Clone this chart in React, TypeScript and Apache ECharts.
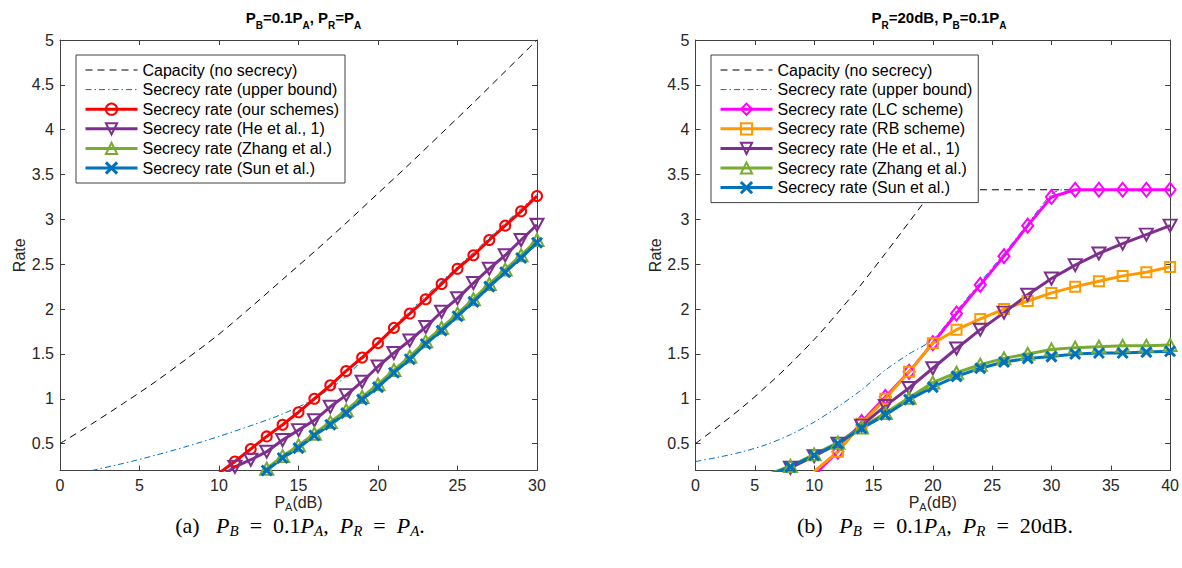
import React, { useEffect, useRef } from "react";
import * as echarts from "echarts";

// ---------------- data: left panel (P_B = 0.1 P_A, P_R = P_A) ----------------
const capLx = [0, 2, 4, 6, 8, 10, 12, 14, 16, 18, 20, 22, 24, 26, 28, 30];
const capLy = [0.5, 0.72, 0.95, 1.19, 1.45, 1.72, 2.02, 2.33, 2.64, 2.96, 3.29, 3.62, 3.96, 4.3, 4.65, 5.0];
const upLx = [2, 4, 6, 8, 10, 12, 14, 16, 18, 20, 22, 24, 26, 28, 30];
const upLy = [0.2, 0.28, 0.37, 0.47, 0.58, 0.7, 0.83, 1.0, 1.25, 1.63, 1.98, 2.31, 2.63, 2.96, 3.28];
const ourLx = [10, 11, 12, 13, 14, 15, 16, 17, 18, 19, 20, 21, 22, 23, 24, 25, 26, 27, 28, 29, 30];
const ourLy = [0.17, 0.3, 0.44, 0.58, 0.71, 0.85, 1.0, 1.15, 1.31, 1.46, 1.62, 1.79, 1.95, 2.11, 2.28, 2.45, 2.6, 2.77, 2.93, 3.09, 3.26];
const heLx = [10, 11, 12, 13, 14, 15, 16, 17, 18, 19, 20, 21, 22, 23, 24, 25, 26, 27, 28, 29, 30];
const heLy = [0.12, 0.24, 0.32, 0.41, 0.54, 0.65, 0.76, 0.91, 1.04, 1.19, 1.36, 1.51, 1.65, 1.8, 1.97, 2.12, 2.29, 2.45, 2.6, 2.77, 2.94];
const zsLx = [12, 13, 14, 15, 16, 17, 18, 19, 20, 21, 22, 23, 24, 25, 26, 27, 28, 29, 30];
const zhangLy = [0.08, 0.22, 0.36, 0.48, 0.61, 0.74, 0.87, 1.02, 1.16, 1.32, 1.47, 1.64, 1.79, 1.95, 2.11, 2.28, 2.44, 2.6, 2.77];
const sunLy = [0.07, 0.2, 0.34, 0.45, 0.59, 0.71, 0.84, 0.99, 1.13, 1.29, 1.44, 1.61, 1.76, 1.92, 2.08, 2.25, 2.41, 2.57, 2.74];

// ---------------- data: right panel (P_R = 20 dB, P_B = 0.1 P_A) ----------------
const capRx = [0, 2, 4, 6, 8, 10, 12, 14, 16, 18, 20, 20.1, 40];
const capRy = [0.5, 0.7, 0.91, 1.14, 1.39, 1.66, 1.96, 2.28, 2.62, 2.97, 3.32, 3.33, 3.33];
const upRx = [0, 2, 4, 6, 8, 10, 12, 14, 16, 18, 20, 22, 24, 26, 28, 30, 31, 40];
const upRy = [0.3, 0.35, 0.41, 0.49, 0.6, 0.74, 0.91, 1.1, 1.32, 1.5, 1.66, 1.98, 2.3, 2.62, 2.95, 3.28, 3.33, 3.33];
const lrRx = [10, 12, 14, 16, 18, 20, 22, 24, 26, 28, 30, 32, 34, 36, 38, 40];
const lcRy = [0.15, 0.41, 0.74, 1.02, 1.3, 1.62, 1.95, 2.27, 2.59, 2.93, 3.25, 3.33, 3.33, 3.33, 3.33, 3.33];
const rbRy = [0.19, 0.41, 0.72, 1.0, 1.3, 1.62, 1.77, 1.89, 2.0, 2.09, 2.18, 2.25, 2.31, 2.37, 2.41, 2.47];
const hzsRx = [6, 8, 10, 12, 14, 16, 18, 20, 22, 24, 26, 28, 30, 32, 34, 36, 38, 40];
const heRy = [0.14, 0.23, 0.36, 0.5, 0.7, 0.92, 1.12, 1.34, 1.56, 1.77, 1.96, 2.16, 2.34, 2.49, 2.62, 2.73, 2.83, 2.93];
const zhangRy = [0.15, 0.25, 0.38, 0.51, 0.68, 0.84, 1.01, 1.18, 1.29, 1.38, 1.45, 1.5, 1.55, 1.57, 1.58, 1.59, 1.59, 1.6];
const sunRy = [0.14, 0.24, 0.37, 0.5, 0.67, 0.82, 0.99, 1.13, 1.25, 1.34, 1.41, 1.45, 1.47, 1.5, 1.51, 1.51, 1.52, 1.53];

const yTicks = [0.5, 1, 1.5, 2, 2.5, 3, 3.5, 4, 4.5, 5];

const N_CAP = "Capacity (no secrecy)";
const N_UP = "Secrecy rate (upper bound)";
const N_OUR = "Secrecy rate (our schemes)";
const N_LC = "Secrecy rate (LC scheme)";
const N_RB = "Secrecy rate (RB scheme)";
const N_HE = "Secrecy rate (He et al., 1)";
const N_ZH = "Secrecy rate (Zhang et al.)";
const N_SUN = "Secrecy rate (Sun et al.)";

const FONT = '"Liberation Sans", Arial, Helvetica, sans-serif';
const SERIF = '"Liberation Serif", "Times New Roman", serif';
const AX = "#404040";
const TXT = "#262626";

const C = {
  red: "#FF0000",
  purple: "#7E2F8E",
  green: "#77AC30",
  blue: "#0072BD",
  magenta: "#FF00FF",
  orange: "#FF9900",
};

const zip = (xs: number[], ys: number[]) => xs.map((x, i) => [x, ys[i]]);

const X_SYM = "path://M0,0L10,10M10,0L0,10";
const TRI = [13, 12];

function xAxes(grid: number, max: number) {
  const common = {
    gridIndex: grid,
    type: "value",
    min: 0,
    max,
    interval: 5,
    axisLine: { show: true, onZero: false, lineStyle: { color: AX, width: 1 } },
    axisTick: { show: true, inside: true, length: 5, lineStyle: { color: AX } },
    splitLine: { show: false },
  };
  return [
    {
      ...common,
      position: "bottom",
      axisLabel: { show: true, color: TXT, fontSize: 16, fontFamily: FONT, margin: 7 },
      name: "{m|P}{s|A}{m|(dB)}",
      nameLocation: "middle",
      nameGap: 24,
      nameMoveOverlap: false,
      nameTextStyle: {
        verticalAlign: "top",
        rich: {
          m: { fontSize: 16, fontFamily: FONT, color: TXT, verticalAlign: "top", lineHeight: 15 },
          s: { fontSize: 11, fontFamily: FONT, color: TXT, verticalAlign: "top", lineHeight: 11, padding: [7, 0, 0, 0] },
        },
      },
    },
    { ...common, position: "top", axisLabel: { show: false } },
  ];
}

function yAxes(grid: number) {
  const common = {
    gridIndex: grid,
    type: "value",
    min: 0.2,
    max: 5,
    axisLine: { show: true, onZero: false, lineStyle: { color: AX, width: 1 } },
    axisTick: { show: true, inside: true, length: 5, lineStyle: { color: AX }, customValues: yTicks },
    splitLine: { show: false },
  };
  return [
    {
      ...common,
      position: "left",
      axisLabel: { show: true, color: TXT, fontSize: 16, fontFamily: FONT, margin: 6, customValues: yTicks },
      name: "Rate",
      nameLocation: "middle",
      nameRotate: 90,
      nameGap: 30,
      nameTextStyle: { fontSize: 16, fontFamily: FONT, color: TXT },
    },
    { ...common, position: "right", axisLabel: { show: false } },
  ];
}

function capSeries(name: string, xi: number, yi: number, xs: number[], ys: number[]) {
  return {
    name,
    type: "line",
    xAxisIndex: xi,
    yAxisIndex: yi,
    data: zip(xs, ys),
    symbol: "none",
    smooth: 0.3,
    lineStyle: { color: "#000", width: 1, type: [7, 5] },
    itemStyle: { color: "#000" },
  };
}

function upSeries(name: string, xi: number, yi: number, xs: number[], ys: number[]) {
  return {
    name,
    type: "line",
    xAxisIndex: xi,
    yAxisIndex: yi,
    data: zip(xs, ys),
    symbol: "none",
    smooth: 0.3,
    lineStyle: { color: C.blue, width: 1, type: [6, 3, 1.5, 3] },
    itemStyle: { color: C.blue },
  };
}

function markSeries(
  name: string,
  xi: number,
  yi: number,
  xs: number[],
  ys: number[],
  color: string,
  symbol: string,
  size: number | number[],
  rotate = 0,
  bw = 2
) {
  return {
    name,
    type: "line",
    xAxisIndex: xi,
    yAxisIndex: yi,
    data: zip(xs, ys),
    symbol,
    symbolSize: size,
    symbolRotate: rotate,
    showAllSymbol: true,
    lineStyle: { color, width: 3 },
    itemStyle: { color: "rgba(0,0,0,0)", borderColor: color, borderWidth: bw },
  };
}

function legendItem(name: string, color: string, dash?: any, lw = 3, bw = 2, noSym = false) {
  return {
    name,
    lineStyle: { color, width: lw, type: dash || "solid" },
    itemStyle: noSym
      ? { color: "rgba(0,0,0,0)", borderColor: "rgba(0,0,0,0)", borderWidth: 0, opacity: 0 }
      : { color: "rgba(0,0,0,0)", borderColor: color, borderWidth: bw },
  };
}

function titleRich() {
  return {
    m: { fontSize: 15, fontWeight: "bold", fontFamily: FONT, color: "#000", verticalAlign: "top", lineHeight: 20 },
    s: { fontSize: 10, fontWeight: "bold", fontFamily: FONT, color: "#000", verticalAlign: "bottom", lineHeight: 12 },
  };
}

function captionRich() {
  return {
    n: { fontSize: 22, fontFamily: SERIF, color: "#000", verticalAlign: "top", lineHeight: 22 },
    i: { fontSize: 22, fontFamily: SERIF, fontStyle: "italic", color: "#000", verticalAlign: "top", lineHeight: 22 },
    s: { fontSize: 15, fontFamily: SERIF, fontStyle: "italic", color: "#000", verticalAlign: "top", lineHeight: 14, padding: [9, 0, 0, 0] },
  };
}

export default function App() {
  const ref = useRef<HTMLDivElement>(null);
  useEffect(() => {
    if (!ref.current) return;
    const chart = echarts.init(ref.current, null, { renderer: "svg" });
    const legendBase = {
      orient: "vertical",
      top: 55,
      itemWidth: 52,
      itemHeight: 14,
      itemGap: 3.6,
      padding: [7, 6, 7, 8],
      borderColor: AX,
      borderWidth: 1,
      backgroundColor: "#fff",
      selectedMode: false,
      textStyle: { fontSize: 16, fontFamily: FONT, color: "#000" },
    };
    chart.setOption({
      animation: false,
      backgroundColor: "#fff",
      title: [
        {
          text: "{m|P}{s|B}{m|=0.1P}{s|A}{m|, P}{s|R}{m|=P}{s|A}",
          left: 298.5,
          top: 5,
          textAlign: "center",
          textStyle: { rich: titleRich() },
        },
        {
          text: "{m|P}{s|R}{m|=20dB, P}{s|B}{m|=0.1P}{s|A}",
          left: 934,
          top: 5,
          textAlign: "center",
          textStyle: { rich: titleRich() },
        },
      ],
      grid: [
        { left: 60, top: 40, width: 477, height: 430.5, containLabel: false },
        { left: 695.5, top: 40, width: 477, height: 430.5, containLabel: false },
      ],
      xAxis: [...xAxes(0, 30), ...xAxes(1, 40)],
      yAxis: [...yAxes(0), ...yAxes(1)],
      legend: [
        {
          ...legendBase,
          left: 76,
          data: [
            legendItem(N_CAP, "#000", [7, 5], 1, 0, true),
            legendItem(N_UP, C.blue, [6, 3, 1.5, 3], 1, 0, true),
            legendItem(N_OUR, C.red),
            legendItem(N_HE, C.purple),
            legendItem(N_ZH, C.green),
            legendItem(N_SUN, C.blue, undefined, 3, 3),
          ],
        },
        {
          ...legendBase,
          left: 711,
          data: [
            legendItem(N_CAP, "#000", [7, 5], 1, 0, true),
            legendItem(N_UP, C.blue, [6, 3, 1.5, 3], 1, 0, true),
            legendItem(N_LC, C.magenta),
            legendItem(N_RB, C.orange),
            legendItem(N_HE, C.purple),
            legendItem(N_ZH, C.green),
            legendItem(N_SUN, C.blue, undefined, 3, 3),
          ],
        },
      ],
      graphic: [
        {
          type: "text",
          x: 300,
          y: 514,
          style: {
            text: "{n|(a)   }{i|P}{s|B}{n|  =  0.1}{i|P}{s|A}{n|,  }{i|P}{s|R}{n|  =  }{i|P}{s|A}{n|.}",
            rich: captionRich(),
            align: "center",
          },
        },
        {
          type: "text",
          x: 935,
          y: 514,
          style: {
            text: "{n|(b)   }{i|P}{s|B}{n|  =  0.1}{i|P}{s|A}{n|,  }{i|P}{s|R}{n|  =  20dB.}",
            rich: captionRich(),
            align: "center",
          },
        },
      ],
      series: [
        capSeries(N_CAP, 0, 0, capLx, capLy),
        upSeries(N_UP, 0, 0, upLx, upLy),
        markSeries(N_OUR, 0, 0, ourLx, ourLy, C.red, "circle", 10),
        markSeries(N_HE, 0, 0, heLx, heLy, C.purple, "triangle", TRI, 180),
        markSeries(N_ZH, 0, 0, zsLx, zhangLy, C.green, "triangle", TRI),
        markSeries(N_SUN, 0, 0, zsLx, sunLy, C.blue, X_SYM, 10, 0, 3),

        capSeries(N_CAP, 2, 2, capRx, capRy),
        upSeries(N_UP, 2, 2, upRx, upRy),
        markSeries(N_LC, 2, 2, lrRx, lcRy, C.magenta, "diamond", [11, 14]),
        markSeries(N_RB, 2, 2, lrRx, rbRy, C.orange, "rect", 10),
        markSeries(N_HE, 2, 2, hzsRx, heRy, C.purple, "triangle", TRI, 180),
        markSeries(N_ZH, 2, 2, hzsRx, zhangRy, C.green, "triangle", TRI),
        markSeries(N_SUN, 2, 2, hzsRx, sunRy, C.blue, X_SYM, 10, 0, 3),
      ],
    });
    return () => chart.dispose();
  }, []);
  return <div ref={ref} style={{ position: "absolute", left: 0, top: 0, width: 1182, height: 568 }} />;
}
